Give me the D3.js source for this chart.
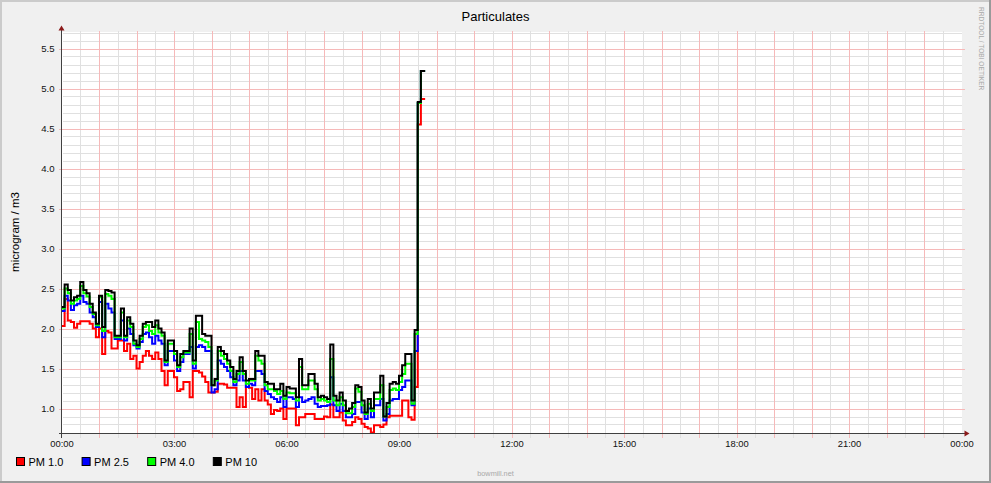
<!DOCTYPE html>
<html><head><meta charset="utf-8">
<script src="https://cdn.jsdelivr.net/npm/d3@7"></script>
<style>
html,body{margin:0;padding:0;background:#f0f0f0;}
svg{display:block;}
text{font-family:"Liberation Sans",Arial,sans-serif;}
</style></head><body>
<svg id="c" width="991" height="483"></svg>
<script>
const chartTitle = "Particulates";
const yAxisLabel = "microgram / m3";
const watermark = "RRDTOOL / TOBI OETIKER";
const footer = "bowmill.net";
const seriesNames = ["PM 1.0", "PM 2.5", "PM 4.0", "PM 10"];
const seriesColors = ["#ff0000", "#0000ff", "#00ff00", "#000000"];
const stepMinutes = 5;

const pm1 = [2.03,2.37,2.10,2.08,2.01,2.06,2.09,2.09,2.09,2.06,2.00,1.89,2.00,1.68,1.97,1.95,1.75,1.75,1.85,1.85,
1.72,1.81,1.62,1.66,1.50,1.58,1.66,1.72,1.66,1.62,1.70,1.62,1.47,1.29,1.47,1.47,1.39,1.22,1.24,1.33,
1.33,1.14,1.47,1.47,1.45,1.40,1.33,1.20,1.20,1.21,1.31,1.31,1.30,1.26,1.26,1.26,1.02,1.14,1.02,1.27,
1.26,1.12,1.24,1.10,1.24,1.10,1.05,0.93,0.98,0.97,1.00,0.87,1.00,1.00,1.00,0.79,0.89,0.89,0.93,0.93,
0.93,0.87,0.87,0.87,0.90,0.89,1.05,0.89,0.89,0.95,0.85,0.79,0.79,0.83,0.89,0.87,0.81,0.77,0.75,0.70,
0.79,0.79,0.77,0.80,0.89,0.91,0.91,0.91,0.91,1.10,1.10,0.89,0.86,1.27,4.55,4.87];

const pm25 = [2.22,2.41,2.35,2.23,2.29,2.31,2.41,2.33,2.31,2.20,2.14,2.02,2.33,1.89,2.31,2.25,2.20,1.87,1.87,2.10,
1.85,2.00,1.93,1.79,1.75,1.83,1.93,1.95,1.89,1.81,1.91,1.85,1.81,1.54,1.72,1.72,1.60,1.47,1.58,1.68,
1.68,1.77,1.50,1.77,1.79,1.77,1.72,1.72,1.20,1.24,1.60,1.56,1.52,1.47,1.39,1.29,1.35,1.47,1.35,1.27,
1.31,1.29,1.47,1.47,1.43,1.22,1.18,1.14,1.12,1.08,1.14,1.02,1.14,1.14,1.12,1.02,1.14,1.08,1.10,1.12,
1.14,1.06,1.02,1.03,1.03,1.04,1.39,1.04,0.97,1.06,0.97,0.89,0.89,0.93,1.08,1.08,0.95,0.87,1.00,0.89,
1.04,1.04,1.12,0.85,0.93,1.10,1.12,1.12,1.23,1.27,1.35,1.35,1.04,1.72,4.82,5.22];

const pm4 = [2.25,2.50,2.44,2.31,2.35,2.37,2.53,2.44,2.40,2.27,2.18,2.04,2.39,1.97,2.43,2.41,2.37,1.89,1.89,2.20,
1.89,2.10,2.02,1.81,1.77,1.87,2.02,2.04,1.97,1.93,2.04,1.95,1.91,1.58,1.81,1.81,1.68,1.52,1.64,1.70,
1.70,1.93,1.56,2.08,1.87,1.85,1.83,1.77,1.29,1.35,1.72,1.66,1.62,1.56,1.47,1.33,1.43,1.58,1.43,1.31,
1.35,1.35,1.66,1.60,1.56,1.29,1.24,1.24,1.22,1.18,1.22,1.12,1.20,1.19,1.19,1.10,1.52,1.24,1.24,1.35,
1.35,1.24,1.10,1.12,1.10,1.08,1.62,1.10,1.04,1.14,1.04,0.94,0.94,1.02,1.25,1.21,1.04,0.93,1.06,0.97,
1.12,1.12,1.29,0.90,1.02,1.23,1.25,1.23,1.33,1.43,1.56,1.56,1.06,1.93,4.82,5.22];

const pm10 = [2.27,2.55,2.48,2.35,2.39,2.41,2.58,2.48,2.44,2.31,2.20,2.06,2.41,2.02,2.48,2.47,2.45,1.91,1.91,2.25,
1.91,2.14,2.06,1.85,1.79,1.91,2.06,2.08,2.08,2.02,2.10,2.00,1.95,1.60,1.85,1.85,1.72,1.54,1.68,1.72,
1.72,2.00,1.60,2.16,2.16,1.93,1.91,1.91,1.29,1.37,1.77,1.72,1.68,1.60,1.52,1.37,1.47,1.64,1.47,1.35,
1.37,1.37,1.72,1.66,1.66,1.33,1.31,1.31,1.24,1.24,1.31,1.16,1.27,1.25,1.25,1.14,1.62,1.29,1.29,1.43,
1.43,1.31,1.14,1.16,1.14,1.12,1.80,1.16,1.10,1.20,1.10,0.97,1.00,1.07,1.29,1.27,1.10,0.95,1.12,1.00,
1.20,1.20,1.41,0.90,1.07,1.31,1.33,1.31,1.41,1.54,1.68,1.68,1.10,1.98,4.83,5.22];

const yTickValues = [1.0, 1.5, 2.0, 2.5, 3.0, 3.5, 4.0, 4.5, 5.0, 5.5];
const xTickHours = [0, 3, 6, 9, 12, 15, 18, 21, 24];
const xTickLabels = ["00:00", "03:00", "06:00", "09:00", "12:00", "15:00", "18:00", "21:00", "00:00"];

const W = 991, H = 483;
const L = 61.5, R = 961.5, T = 32.5, B = 433.5;
const svg = d3.select("#c");

svg.append("rect").attr("x",0).attr("y",0).attr("width",W).attr("height",H).attr("fill","#f0f0f0");
svg.append("rect").attr("x",0).attr("y",0).attr("width",W).attr("height",2).attr("fill","#cbcbcb");
svg.append("rect").attr("x",0).attr("y",0).attr("width",2).attr("height",H).attr("fill","#cbcbcb");
svg.append("rect").attr("x",0).attr("y",H-2).attr("width",W).attr("height",2).attr("fill","#9a9a9a");
svg.append("rect").attr("x",W-2).attr("y",0).attr("width",2).attr("height",H).attr("fill","#9a9a9a");

const x = d3.scaleLinear().domain([0, 24]).range([L, R]);
const y = d3.scaleLinear().domain([0.6875, 5.7]).range([B, T]);

svg.append("rect").attr("x",L+0.5).attr("y",T-0.5).attr("width",R-L).attr("height",B-T).attr("fill","#ffffff");

const grid = svg.append("g").attr("shape-rendering","crispEdges");
const yMinor = d3.range(7, 58).map(v => v/10).filter(v => Math.round(v*10) % 5 !== 0);
grid.selectAll(".hm").data(yMinor).join("line")
  .attr("x1", L+1).attr("x2", R).attr("y1", d => Math.round(y(d))+0.5).attr("y2", d => Math.round(y(d))+0.5)
  .attr("stroke","#e0e0e0").attr("stroke-width",1);
const xMinor = d3.range(0, 48).map(h => h/2 + 0.5).filter(h => h < 24 && h % 1 !== 0);
grid.selectAll(".vm").data(xMinor).join("line")
  .attr("x1", d => Math.round(x(d))+0.5).attr("x2", d => Math.round(x(d))+0.5).attr("y1", T-1.5).attr("y2", B+4)
  .attr("stroke","#e0e0e0").attr("stroke-width",1);
grid.selectAll(".hM").data(yTickValues).join("line")
  .attr("x1", L-3).attr("x2", R+3).attr("y1", d => Math.round(y(d))+0.5).attr("y2", d => Math.round(y(d))+0.5)
  .attr("stroke","#f6b9b9").attr("stroke-width",1);
const xMajor = d3.range(1, 24);
grid.selectAll(".vM").data(xMajor).join("line")
  .attr("x1", d => Math.round(x(d))+0.5).attr("x2", d => Math.round(x(d))+0.5).attr("y1", T-2).attr("y2", B+4)
  .attr("stroke","#f6b9b9").attr("stroke-width",1);

const yAxis = d3.axisLeft(y).tickValues(yTickValues).tickFormat(d => d.toFixed(1)).tickSize(0).tickPadding(7);
const gy = svg.append("g").attr("transform",`translate(${L},0)`).call(yAxis);
gy.select(".domain").remove();
gy.selectAll("text").attr("font-family","Liberation Sans, Arial, sans-serif").attr("font-size","9.6px").attr("fill","#111");

const xAxis = d3.axisBottom(x).tickValues(xTickHours).tickFormat((d,i) => xTickLabels[i]).tickSize(0).tickPadding(7);
const gx = svg.append("g").attr("transform",`translate(0,${B})`).call(xAxis);
gx.select(".domain").remove();
gx.selectAll("text").attr("font-family","Liberation Sans, Arial, sans-serif").attr("font-size","9.4px").attr("fill","#111");

const allSeries = [pm1, pm25, pm4, pm10];
const line = d3.line()
  .x(d => x(d.t))
  .y(d => y(d.v))
  .curve(d3.curveStepAfter);
const plot = svg.append("g");
allSeries.forEach((vals, si) => {
  const pts = vals.map((v, i) => ({t: i*stepMinutes/60, v}));
  pts.push({t: vals.length*stepMinutes/60 + 0.03, v: vals[vals.length-1]});
  plot.append("path").datum(pts).attr("d", line)
    .attr("fill","none").attr("stroke", seriesColors[si]).attr("stroke-width",2)
    .attr("stroke-linejoin","miter");
});

svg.append("line").attr("x1",L-3).attr("x2",R+3).attr("y1",B).attr("y2",B)
  .attr("stroke","#404040").attr("stroke-width",1).attr("shape-rendering","crispEdges");
svg.append("line").attr("x1",L).attr("x2",L).attr("y1",T-3).attr("y2",B+4)
  .attr("stroke","#404040").attr("stroke-width",1).attr("shape-rendering","crispEdges");
svg.append("path").attr("d",`M${L-3},${T-2} L${L+3},${T-2} L${L},${T-7} Z`).attr("fill","#8b1a1a");
svg.append("path").attr("d",`M${R+3},${B-3} L${R+3},${B+3} L${R+8},${B} Z`).attr("fill","#8b1a1a");

svg.append("text").attr("x",W/2).attr("y",21).attr("text-anchor","middle")
  .attr("font-size","13px").attr("fill","#000").text(chartTitle);
svg.append("text").attr("transform",`translate(19,232) rotate(-90)`).attr("text-anchor","middle")
  .attr("font-size","11.5px").attr("fill","#000").text(yAxisLabel);
svg.append("text").attr("transform",`translate(979,7) rotate(90)`).attr("text-anchor","start")
  .attr("font-size","6.6px").attr("fill","#a8a8a8").text(watermark);
svg.append("text").attr("x",W/2).attr("y",476).attr("text-anchor","middle")
  .attr("font-size","7.3px").attr("fill","#a8a8a8").text(footer);

const leg = svg.append("g");
seriesNames.forEach((name, i) => {
  const lx = 16.5 + i*65.6;
  leg.append("rect").attr("x",lx).attr("y",457.5).attr("width",8).attr("height",8)
    .attr("fill",seriesColors[i]).attr("stroke","#000").attr("stroke-width",1);
  leg.append("text").attr("x",lx+12).attr("y",465.5).attr("font-size","11px").attr("fill","#000").text(name);
});
</script>
</body></html>
